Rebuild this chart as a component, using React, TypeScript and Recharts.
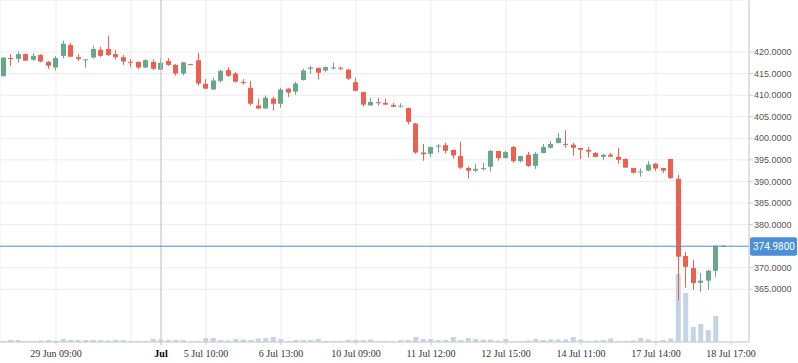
import { ComposedChart, Bar, XAxis, YAxis, CartesianGrid, ReferenceLine } from 'recharts';

const RED = '#ec604f';
const GREEN = '#6aa78a';
const VOL = '#c3d4e6';

// hourly candles, oldest first
const opens = [
  414.4, 418.6, 418.4, 419.5, 418.2, 419.3, 417.7, 416.4, 419.1, 421.6,
  418.8, 418.2, 418.7, 420.5, 420.7, 419.5, 418.8, 417.75, 417.7, 416.4,
  417.7, 415.9, 417.9, 417.0, 415.0, 417.2, 418.1, 412.6, 411.3, 413.3,
  415.8, 415.0, 413.05, 411.7, 407.6, 406.9, 409.2, 408.0, 411.5, 410.8,
  413.5, 416.1, 416.3, 415.7, 416.3, 416.35, 415.9, 413.0, 410.7, 407.6,
  408.35, 408.2, 407.7, 407.4, 407.0, 403.4, 396.7, 396.4, 398.2, 398.4,
  397.3, 395.9, 393.1, 392.5, 393.0, 393.4, 397.05, 395.4, 398.0, 394.7,
  396.2, 393.6, 396.6, 397.8, 398.9, 398.7, 398.5, 397.75, 397.3, 396.6,
  395.7, 396.2, 395.7, 395.2, 393.1, 392.2, 392.5, 394.1, 393.1, 395.2,
  390.6, 372.7, 369.9, 366.5, 367.0, 369.3, 375.1,
];
const highs = [
  418.8, 419.5, 420.1, 419.7, 419.7, 419.5, 417.9, 419.0, 422.6, 422.1,
  419.5, 418.3, 421.4, 421.2, 423.7, 420.5, 419.3, 418.4, 417.8, 418.4,
  418.3, 418.5, 418.6, 417.2, 417.7, 417.25, 419.8, 413.7, 414.0, 415.9,
  416.5, 415.4, 413.7, 413.3, 409.2, 409.9, 409.6, 411.7, 411.6, 413.1,
  416.1, 416.8, 416.4, 416.6, 417.5, 416.6, 416.1, 414.0, 410.8, 409.4,
  409.3, 409.1, 408.2, 408.1, 407.1, 403.6, 398.7, 398.05, 398.7, 399.0,
  397.35, 399.2, 393.5, 394.0, 394.3, 397.3, 397.1, 397.05, 398.2, 395.95,
  396.8, 396.8, 398.7, 399.4, 401.2, 401.9, 398.9, 397.8, 398.0, 396.8,
  396.4, 396.6, 397.7, 395.35, 393.15, 393.0, 394.7, 394.3, 393.15, 395.25,
  391.5, 373.6, 371.8, 368.8, 369.5, 375.1, 375.15,
];
const lows = [
  414.3, 416.8, 417.5, 417.9, 417.9, 417.6, 416.1, 415.7, 418.5, 418.8,
  417.9, 416.4, 418.5, 418.8, 419.1, 418.3, 417.0, 416.5, 416.1, 416.3,
  415.8, 415.8, 416.8, 414.5, 414.6, 417.0, 412.2, 411.4, 411.2, 412.9,
  414.2, 412.9, 412.4, 407.6, 406.8, 406.8, 406.4, 407.1, 409.6, 410.1,
  413.4, 414.9, 413.6, 415.3, 415.9, 415.8, 413.5, 410.9, 407.3, 407.5,
  407.6, 407.7, 407.25, 407.1, 403.2, 396.4, 394.8, 395.7, 396.7, 396.5,
  395.3, 392.9, 390.7, 392.1, 392.5, 392.3, 394.8, 395.35, 394.3, 394.4,
  393.4, 392.9, 396.5, 397.6, 398.85, 397.8, 396.0, 395.2, 395.5, 395.6,
  395.0, 395.7, 394.1, 393.1, 391.8, 391.1, 392.35, 392.4, 391.95, 390.55,
  362.4, 365.4, 364.9, 364.4, 364.9, 367.9, 374.95,
];
const closes = [
  418.7, 418.5, 419.5, 418.0, 419.1, 417.8, 416.8, 418.6, 421.9, 418.9,
  418.4, 418.3, 420.7, 419.1, 419.3, 418.8, 417.8, 417.6, 416.4, 418.1,
  416.1, 417.5, 417.0, 415.0, 417.6, 417.05, 412.7, 411.5, 413.4, 415.6,
  414.5, 413.1, 412.95, 408.0, 406.9, 409.4, 408.0, 411.3, 410.6, 412.7,
  415.7, 416.4, 415.2, 416.5, 416.4, 416.25, 413.8, 411.0, 407.8, 408.4,
  408.25, 407.8, 407.3, 407.55, 403.8, 396.7, 396.3, 398.0, 398.3, 397.1,
  396.0, 393.2, 392.5, 392.9, 393.1, 397.05, 395.4, 396.8, 394.7, 395.9,
  393.6, 396.4, 398.0, 398.7, 400.1, 398.6, 397.8, 397.35, 396.9, 395.7,
  396.2, 395.75, 395.0, 393.2, 392.0, 392.3, 393.9, 393.0, 392.5, 390.8,
  372.55, 370.2, 366.45, 367.0, 369.3, 375.1, 374.98,
];
const volumes = [
  10, 20, 20, 10, 10, 15, 20, 10, 30, 20,
  20, 20, 20, 20, 15, 20, 20, 10, 10, 10,
  30, 25, 20, 20, 20, 5, 10, 40, 40, 20,
  15, 30, 25, 20, 35, 40, 50, 30, 10, 20,
  20, 20, 30, 10, 10, 10, 20, 20, 20, 25,
  10, 10, 5, 20, 20, 50, 30, 30, 20, 20,
  50, 20, 40, 30, 25, 25, 15, 30, 5, 10,
  15, 30, 20, 25, 25, 25, 50, 25, 10, 15,
  20, 35, 10, 10, 15, 40, 25, 10, 20, 35,
  680, 490, 150, 180, 120, 260, 5,
];

const xTickIdx = [7, 17, 21, 27, 37, 47, 57, 67, 77, 87, 97];
const xTickLabels = [
  '29 Jun 09:00', '', 'Jul', '5 Jul 10:00', '6 Jul 13:00', '10 Jul 09:00',
  '11 Jul 12:00', '12 Jul 15:00', '14 Jul 11:00', '17 Jul 14:00', '18 Jul 17:00',
];
const priceTicks = [365, 370, 380, 385, 390, 395, 400, 405, 410, 415, 420];
const lastPrice = 374.98;
const monthIdx = 21;

const rows = opens.map((o, i) => ({
  i,
  o,
  h: highs[i],
  l: lows[i],
  c: closes[i],
  range: [lows[i], highs[i]],
  vol: volumes[i],
}));

function Candle(props: any) {
  const { x, y, width, height, payload } = props;
  const { o, h, l, c } = payload;
  const k = height / (h - l);
  const top = y + (h - Math.max(o, c)) * k;
  const bh = Math.max(1, Math.abs(o - c) * k);
  const col = c >= o ? GREEN : RED;
  const bx = Math.round(x);
  const w = Math.round(width);
  const cx = bx + Math.floor(w / 2);
  return (
    <g>
      <rect x={cx} y={y} width={1} height={Math.max(1, height)} fill={col} />
      <rect x={bx} y={top} width={w} height={bh} fill={col} />
    </g>
  );
}

function XTick(props: any) {
  const { x, y, payload } = props;
  const label = xTickLabels[xTickIdx.indexOf(payload.value)] ?? '';
  if (!label) return null;
  const month = label === 'Jul';
  return (
    <g>
      <line x1={x} x2={x} y1={y - 5} y2={y - 2} stroke={month ? '#bbb' : '#ccc'} />
      <text
        x={x}
        y={y + 10}
        textAnchor="middle"
        fontFamily="'Liberation Serif', serif"
        fontSize={10}
        fontWeight={month ? 700 : 400}
        fill={month ? '#000' : '#333'}
      >
        {label}
      </text>
    </g>
  );
}

function PriceTag(props: any) {
  const { viewBox } = props;
  const x = viewBox.x + viewBox.width + 1;
  const y = viewBox.y;
  return (
    <g>
      <rect x={x} y={y - 9} width={47} height={18.5} rx={2} fill="#4a8fd7" />
      <text x={x + 3} y={y + 4} fill="#fff" fontSize={10} fontFamily="Roboto">
        {lastPrice.toFixed(4)}
      </text>
    </g>
  );
}

export default function App() {
  return (
    <div style={{ position: 'absolute', left: 0, top: 0, background: '#fff' }}>
      <ComposedChart width={798} height={363} data={rows} margin={{ top: 0, right: 0, left: 0, bottom: 0 }}>
        <CartesianGrid xAxisId="p" yAxisId="price" stroke="#ececec" />
        <XAxis
          xAxisId="p"
          dataKey="i"
          type="number"
          domain={[-0.4667, 99.4]}
          allowDataOverflow
          ticks={xTickIdx}
          interval={0}
          height={21}
          stroke="#ccc"
          tickLine={false}
          tickSize={3}
          tickMargin={2}
          tick={<XTick />}
        />
        <XAxis xAxisId="v" dataKey="i" type="number" domain={[-0.4667, 99.4]} allowDataOverflow hide />
        <YAxis
          yAxisId="price"
          orientation="right"
          domain={[352.78, 432.05]}
          allowDataOverflow
          ticks={priceTicks}
          interval={0}
          width={49}
          stroke="#ccc"
          tickSize={4}
          tickMargin={1}
          tick={{ fill: '#555', fontSize: 9, fontFamily: "'Liberation Sans', sans-serif" }}
          tickFormatter={(v: number) => v.toFixed(4)}
        />
        <YAxis yAxisId="vol" domain={[0, 3420]} allowDataOverflow hide />
        <ReferenceLine xAxisId="p" yAxisId="price" x={monthIdx} stroke="#c4c4c4" />
        <Bar xAxisId="v" yAxisId="vol" dataKey="vol" fill={VOL} barSize={5} isAnimationActive={false} />
        <Bar
          xAxisId="p"
          yAxisId="price"
          dataKey="range"
          barSize={5}
          shape={<Candle />}
          isAnimationActive={false}
        />
        <ReferenceLine
          xAxisId="p"
          yAxisId="price"
          y={lastPrice}
          stroke="#4a8fd7"
          label={(p: any) => <PriceTag {...p} />}
        />
      </ComposedChart>
    </div>
  );
}
